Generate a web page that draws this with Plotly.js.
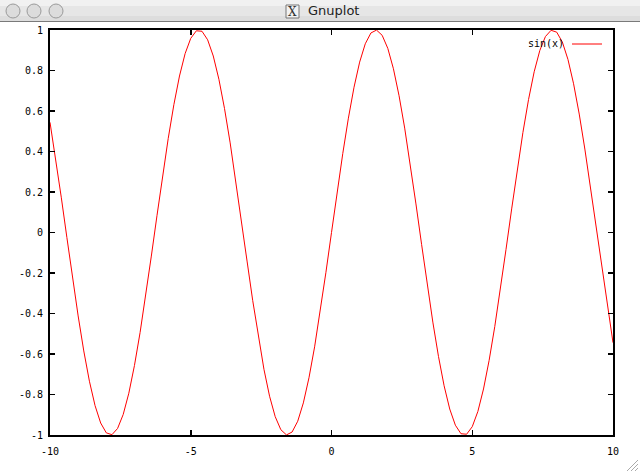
<!DOCTYPE html>
<html>
<head>
<meta charset="utf-8">
<script src="https://cdn.plot.ly/plotly-3.0.1.min.js"></script>
<style>html,body{margin:0;padding:0;background:#fff;}#plot{width:640px;height:472px;}</style>
</head>
<body>
<div id="plot"></div>
<script>
// Sample points of the plotted curve (step 0.2)
const xValues = [-10,-9.8,-9.6,-9.4,-9.2,-9,-8.8,-8.6,-8.4,-8.2,-8,-7.8,-7.6,-7.4,-7.2,-7,-6.8,-6.6,-6.4,-6.2,-6,-5.8,-5.6,-5.4,-5.2,-5,-4.8,-4.6,-4.4,-4.2,-4,-3.8,-3.6,-3.4,-3.2,-3,-2.8,-2.6,-2.4,-2.2,-2,-1.8,-1.6,-1.4,-1.2,-1,-0.8,-0.6,-0.4,-0.2,0,0.2,0.4,0.6,0.8,1,1.2,1.4,1.6,1.8,2,2.2,2.4,2.6,2.8,3,3.2,3.4,3.6,3.8,4,4.2,4.4,4.6,4.8,5,5.2,5.4,5.6,5.8,6,6.2,6.4,6.6,6.8,7,7.2,7.4,7.6,7.8,8,8.2,8.4,8.6,8.8,9,9.2,9.4,9.6,9.8,10];
const sinValues = [0.544,0.3665,0.1743,-0.0248,-0.2229,-0.4121,-0.5849,-0.7344,-0.8546,-0.9407,-0.9894,-0.9985,-0.9679,-0.8987,-0.7937,-0.657,-0.4941,-0.3115,-0.1165,0.0831,0.2794,0.4646,0.6313,0.7728,0.8835,0.9589,0.9962,0.9937,0.9516,0.8716,0.7568,0.6119,0.4425,0.2555,0.0584,-0.1411,-0.335,-0.5155,-0.6755,-0.8085,-0.9093,-0.9738,-0.9996,-0.9854,-0.932,-0.8415,-0.7174,-0.5646,-0.3894,-0.1987,0,0.1987,0.3894,0.5646,0.7174,0.8415,0.932,0.9854,0.9996,0.9738,0.9093,0.8085,0.6755,0.5155,0.335,0.1411,-0.0584,-0.2555,-0.4425,-0.6119,-0.7568,-0.8716,-0.9516,-0.9937,-0.9962,-0.9589,-0.8835,-0.7728,-0.6313,-0.4646,-0.2794,-0.0831,0.1165,0.3115,0.4941,0.657,0.7937,0.8987,0.9679,0.9985,0.9894,0.9407,0.8546,0.7344,0.5849,0.4121,0.2229,0.0248,-0.1743,-0.3665,-0.544];
const seriesName = "sin(x)";
const xTickVals = [-10,-5,0,5,10];
const xTickText = ["-10","-5","0","5","10"];
const yTickVals = [-1,-0.8,-0.6,-0.4,-0.2,0,0.2,0.4,0.6,0.8,1];
const yTickText = ["-1","-0.8","-0.6","-0.4","-0.2","0","0.2","0.4","0.6","0.8","1"];
const windowTitle = "Gnuplot";

// pixel -> paper helpers (plot area: x 50..613, y 30..435)
const L = 50, R = 613, T = 30, B = 435;
const fx = p => (p - L) / (R - L);
const fy = p => (B - p) / (B - T);

const mono = {family: "DejaVu Sans Mono, monospace", size: 10, color: "#000"};

const shapes = [
  // title bar
  {type:"rect", xref:"paper", yref:"paper", x0:fx(0), x1:fx(640), y0:fy(21), y1:fy(0), fillcolor:"#e6e6e6", line:{width:0}, layer:"above"},
  {type:"rect", xref:"paper", yref:"paper", x0:fx(0), x1:fx(640), y0:fy(6), y1:fy(0), fillcolor:"#f1f1f1", line:{width:0}, layer:"above"},
  {type:"rect", xref:"paper", yref:"paper", x0:fx(0), x1:fx(640), y0:fy(21), y1:fy(16), fillcolor:"#dddddd", line:{width:0}, layer:"above"},
  {type:"line", xref:"paper", yref:"paper", x0:fx(0), x1:fx(640), y0:fy(21.5), y1:fy(21.5), line:{color:"#7a7a7a", width:1}, layer:"above"},
  // window buttons
  {type:"circle", xref:"paper", yref:"paper", x0:fx(6), x1:fx(20), y0:fy(18), y1:fy(4), fillcolor:"#dcdcdc", line:{color:"#9a9a9a", width:1}, layer:"above"},
  {type:"circle", xref:"paper", yref:"paper", x0:fx(27), x1:fx(41), y0:fy(18), y1:fy(4), fillcolor:"#dcdcdc", line:{color:"#9a9a9a", width:1}, layer:"above"},
  {type:"circle", xref:"paper", yref:"paper", x0:fx(49), x1:fx(63), y0:fy(18), y1:fy(4), fillcolor:"#dcdcdc", line:{color:"#9a9a9a", width:1}, layer:"above"},
  // X icon box
  {type:"rect", xref:"paper", yref:"paper", x0:fx(286), x1:fx(299), y0:fy(18), y1:fy(5), fillcolor:"#f2f2f2", line:{color:"#777", width:1}, layer:"above"},
  // legend sample line
  {type:"line", xref:"paper", yref:"paper", x0:fx(572), x1:fx(602), y0:fy(44), y1:fy(44), line:{color:"#ff0000", width:1}, layer:"above"},
  // resize grip
  {type:"line", xref:"paper", yref:"paper", x0:fx(627), x1:fx(638), y0:fy(471), y1:fy(460), line:{color:"#aaa", width:1}, layer:"above"},
  {type:"line", xref:"paper", yref:"paper", x0:fx(631), x1:fx(638), y0:fy(471), y1:fy(464), line:{color:"#aaa", width:1}, layer:"above"},
  {type:"line", xref:"paper", yref:"paper", x0:fx(635), x1:fx(638), y0:fy(471), y1:fy(468), line:{color:"#aaa", width:1}, layer:"above"}
];

const annotations = [
  {xref:"paper", yref:"paper", x:fx(306), y:fy(11), xanchor:"left", yanchor:"middle", text:windowTitle, showarrow:false, font:{family:"DejaVu Sans, sans-serif", size:13, color:"#222"}},
  {xref:"paper", yref:"paper", x:fx(292.5), y:fy(11.5), xanchor:"center", yanchor:"middle", text:"X", showarrow:false, font:{family:"DejaVu Serif, serif", size:12, color:"#333"}},
  {xref:"paper", yref:"paper", x:fx(566), y:fy(44), xanchor:"right", yanchor:"middle", text:seriesName, showarrow:false, font:mono}
];

const trace = {x:xValues, y:sinValues, type:"scatter", mode:"lines", name:seriesName, line:{color:"#ff0000", width:1}, showlegend:false};

const axisCommon = {
  showline:true, mirror:"ticks", linecolor:"#000", linewidth:2,
  ticks:"inside", ticklen:5, tickwidth:1.5, tickcolor:"#000",
  showgrid:false, zeroline:false, tickfont:mono, fixedrange:true
};

const layout = {
  width:640, height:472,
  margin:{l:L, r:640-R, t:T, b:472-B, pad:0},
  paper_bgcolor:"#fff", plot_bgcolor:"#fff",
  xaxis:Object.assign({}, axisCommon, {range:[-10,10], tickmode:"array", tickvals:xTickVals, ticktext:xTickText, ticklabelstandoff:6}),
  yaxis:Object.assign({}, axisCommon, {range:[-1,1], tickmode:"array", tickvals:yTickVals, ticktext:yTickText, ticklabelstandoff:3}),
  shapes:shapes, annotations:annotations, showlegend:false
};

Plotly.newPlot("plot", [trace], layout, {displayModeBar:false, staticPlot:true});
</script>
</body>
</html>
